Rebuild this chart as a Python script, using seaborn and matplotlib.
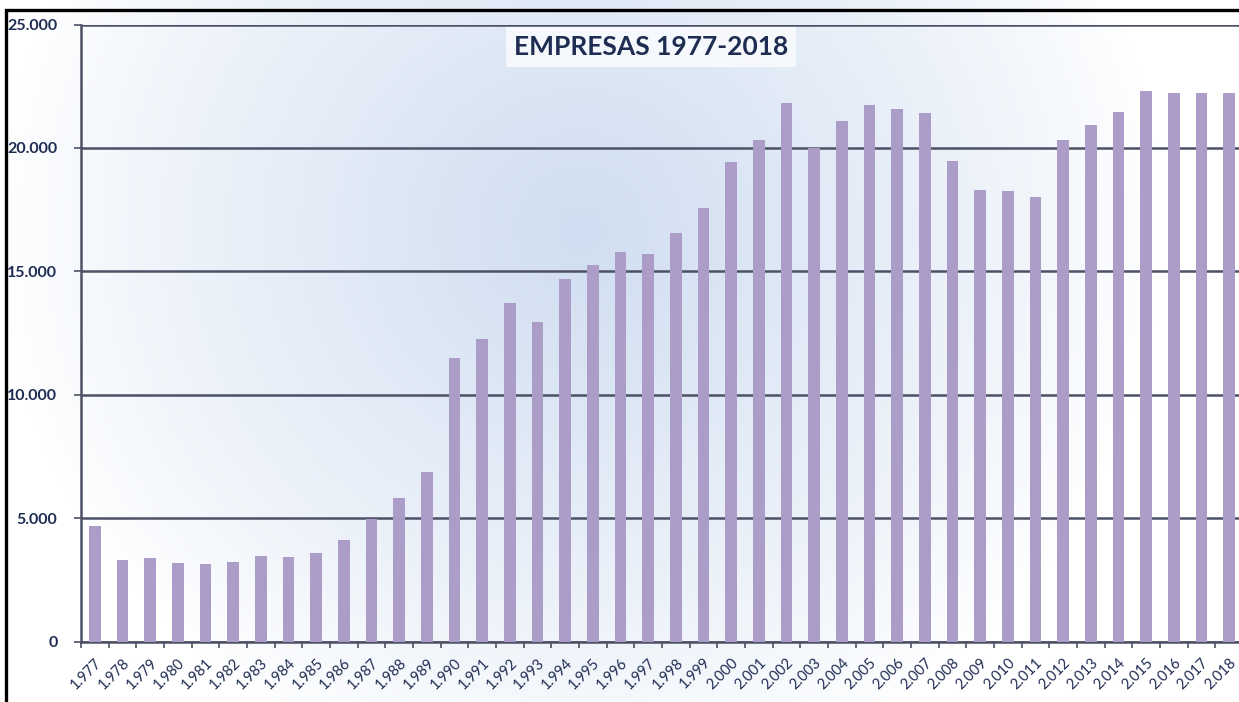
import numpy as np
import pandas as pd
import matplotlib
matplotlib.use("Agg")
import matplotlib.pyplot as plt
import seaborn as sns
from matplotlib.ticker import FuncFormatter, FixedLocator
from matplotlib.patches import Rectangle

# ---- data ----
years = [str(y) for y in range(1977, 2019)]
year_labels = [f"{y // 1000}.{y % 1000:03d}" for y in range(1977, 2019)]
empresas = [4700, 3290, 3370, 3190, 3140, 3210, 3480, 3410, 3570, 4110,
            4950, 5810, 6880, 11470, 12240, 13730, 12960, 14690, 15260, 15790,
            15690, 16560, 17550, 19420, 20320, 21830, 20000, 21100, 21730, 21560,
            21400, 19480, 18290, 18240, 18020, 20320, 20920, 21450, 22320, 22230,
            22230, 22230]
title = "EMPRESAS 1977-2018"
y_ticks = [0, 5000, 10000, 15000, 20000, 25000]

df = pd.DataFrame({"year": years, "empresas": empresas})

sns.set_theme(style="white")
plt.rcParams["font.family"] = ["Lato", "DejaVu Sans"]

W, H = 1239, 702
fig = plt.figure(figsize=(W / 100, H / 100), dpi=100)
fig.patch.set_facecolor("white")

left_px, right_px, top_px, bottom_px = 81, 1243, 24.5, 641.5
ax = fig.add_axes([left_px / W, (H - bottom_px) / H,
                   (right_px - left_px) / W, (bottom_px - top_px) / H])

# background gradient over the figure
bg = fig.add_axes([0, 0, 1, 1], zorder=-5)
bg.set_axis_off()
yy, xx = np.mgrid[0:H, 0:W]
cx, cy, rx, ry = 580, 230, 580, 560
d = np.sqrt(((xx - cx) / rx) ** 2 + ((yy - cy) / ry) ** 2)
t = np.clip(1 - d, 0, 1) ** 0.85
c0 = np.array([1.0, 1.0, 1.0])
c1 = np.array([208, 222, 241]) / 255
img = c0[None, None, :] * (1 - t[..., None]) + c1[None, None, :] * t[..., None]
bg.imshow(img, extent=[0, W, H, 0], aspect="auto")
bg.set_xlim(0, W)
bg.set_ylim(H, 0)
ax.set_facecolor("none")

navy = "#1f2d52"
grid_c = "#4d5166"

sns.barplot(data=df, x="year", y="empresas", color="#ab9cc8", width=0.43,
            saturation=1, linewidth=0, ax=ax, zorder=3)

ax.set_ylim(0, 25000)
ax.set_xlim(-0.5, 41.5)
ax.set_yticks(y_ticks)
ax.yaxis.set_major_formatter(FuncFormatter(lambda v, p: f"{int(v):,}".replace(",", ".")))
ax.yaxis.grid(True, color=grid_c, linewidth=1.8, zorder=1)
ax.set_axisbelow(True)
ax.set_xlabel("")
ax.set_ylabel("")

ax.set_xticks(range(len(years)))
ax.set_xticklabels(year_labels, rotation=45, ha="right", rotation_mode="anchor",
                   fontsize=10.5, color=navy)
ax.xaxis.set_minor_locator(FixedLocator(np.arange(-0.5, len(years), 1.0)))
ax.tick_params(axis="x", which="major", length=0, pad=10)
ax.tick_params(axis="x", which="minor", length=4, width=1.2, color=grid_c,
               direction="out", bottom=True)
ax.tick_params(axis="y", length=5, width=1.2, color=grid_c, direction="out",
               left=True, pad=12, labelsize=11.5, labelcolor=navy)
for lab in ax.get_yticklabels():
    lab.set_fontweight("bold")

for s in ["top", "right"]:
    ax.spines[s].set_visible(False)
for s in ["left", "bottom"]:
    ax.spines[s].set_color(grid_c)
    ax.spines[s].set_linewidth(1.8)

# title in a light box
fig.text(651 / W, 1 - 47 / H, title, ha="center", va="center", fontsize=19,
         fontweight="bold", color=navy,
         bbox=dict(boxstyle="square,pad=0.3", facecolor="white", alpha=0.7,
                   edgecolor="none"), zorder=10)

# outer black frame (cropped on right and bottom)
fig.patches.append(Rectangle((6 / W, -0.05), 1.1, 1 - 10 / H + 0.05,
                             transform=fig.transFigure, fill=False,
                             edgecolor="black", linewidth=2.4, zorder=20))

fig.savefig("out.png", dpi=100)
